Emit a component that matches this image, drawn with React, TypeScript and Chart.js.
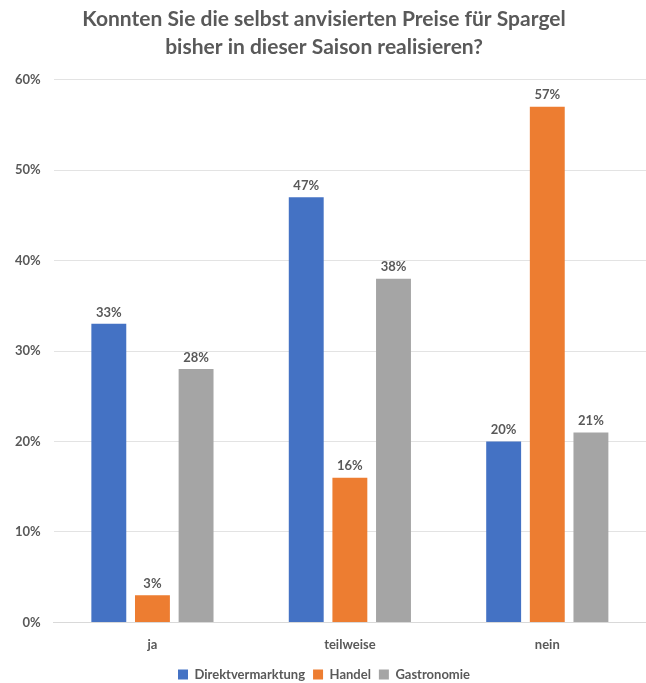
import React, { useEffect, useRef } from "react";
import { Chart, registerables } from "chart.js";

Chart.register(...registerables);

const categories = ["ja", "teilweise", "nein"];
const direktvermarktung = [33, 47, 20];
const handel = [3, 16, 57];
const gastronomie = [28, 38, 21];
const seriesNames = ["Direktvermarktung", "Handel", "Gastronomie"];
const colors = ["#4472C4", "#ED7D31", "#A5A5A5"];
const titleLines = ["Konnten Sie die selbst anvisierten Preise für Spargel", "bisher in dieser Saison realisieren?"];

const FONT = "Lato, 'Open Sans', sans-serif";
const TEXT = "#595959";

const labelPlugin = {
  id: "barLabels",
  afterDatasetsDraw(chart: any) {
    const ctx = chart.ctx;
    ctx.save();
    ctx.font = `bold 13px ${FONT}`;
    ctx.fillStyle = TEXT;
    ctx.textAlign = "center";
    ctx.textBaseline = "bottom";
    chart.data.datasets.forEach((ds: any, i: number) => {
      const meta = chart.getDatasetMeta(i);
      meta.data.forEach((bar: any, j: number) => {
        ctx.fillText(ds.data[j] + "%", bar.x, bar.y - 5);
      });
    });
    ctx.restore();
  },
};

export default function App() {
  const ref = useRef<HTMLCanvasElement | null>(null);
  useEffect(() => {
    if (!ref.current) return;
    const data = [direktvermarktung, handel, gastronomie];
    const chart = new Chart(ref.current, {
      type: "bar",
      data: {
        labels: categories,
        datasets: seriesNames.map((n, i) => ({
          label: n,
          data: data[i],
          backgroundColor: colors[i],
          borderWidth: 0,
          categoryPercentage: 0.663,
          barPercentage: 0.8,
        })),
      },
      options: {
        animation: false,
        responsive: false,
        maintainAspectRatio: false,
        layout: { padding: { top: 6, left: 2, right: 0, bottom: -8 } },
        plugins: {
          title: {
            display: true,
            text: titleLines,
            color: TEXT,
            font: { family: FONT, size: 21, weight: "bold", lineHeight: 1.3 },
            padding: { top: 0, bottom: 19 },
          },
          legend: {
            position: "bottom",
            labels: {
              color: TEXT,
              font: { family: FONT, size: 13, weight: "bold" },
              boxWidth: 10,
              boxHeight: 10,
              padding: 8,
            },
          },
          tooltip: { enabled: false },
        },
        scales: {
          x: {
            grid: { display: false },
            border: { color: "#D9D9D9" },
            ticks: { color: TEXT, font: { family: FONT, size: 13, weight: "bold" }, padding: 7 },
          },
          y: {
            min: 0,
            max: 60,
            grid: { color: "#E3E3E3", drawTicks: false },
            border: { display: false },
            ticks: {
              stepSize: 10,
              color: TEXT,
              padding: 13,
              font: { family: FONT, size: 13, weight: "bold" },
              callback: (v: any) => v + "%",
            },
          },
        },
      },
      plugins: [labelPlugin],
    });
    return () => chart.destroy();
  }, []);
  return (
    <div style={{ position: "fixed", left: 0, top: 0, width: 646, height: 683, background: "#fff" }}>
      <canvas ref={ref} width={646} height={683} />
    </div>
  );
}
